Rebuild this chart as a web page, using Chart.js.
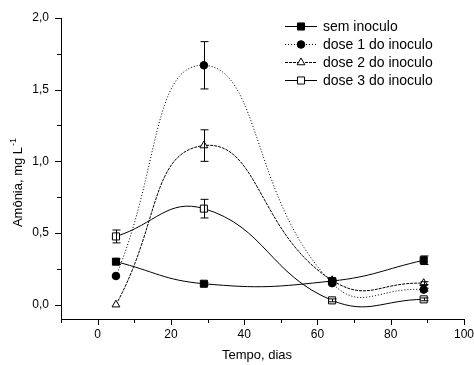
<!DOCTYPE html>
<html>
<head>
<meta charset="utf-8">
<script src="https://cdn.jsdelivr.net/npm/chart.js@4/dist/chart.umd.min.js"></script>
<style>
  html, body { margin: 0; padding: 0; background: #fff; }
  #wrap { width: 474px; height: 365px; }
</style>
</head>
<body>
<div id="wrap"><canvas id="chart"></canvas></div>
<script>
// Data
const days = [5, 29, 64, 89];
const semInoculo = [0.30, 0.146, 0.165, 0.31];
const semInoculoErr = [0.02, 0.01, 0.01, 0.03];
const dose1 = [0.20, 1.67, 0.15, 0.105];
const dose1Err = [0.0, 0.165, 0.01, 0.01];
const dose2 = [0.0, 1.11, 0.17, 0.15];
const dose2Err = [0.0, 0.11, 0.01, 0.01];
const dose3 = [0.476, 0.67, 0.03, 0.037];
const dose3Err = [0.045, 0.065, 0.01, 0.01];

const xTicks = [-10, 0, 10, 20, 30, 40, 50, 60, 70, 80, 90, 100];
const yTicks = [0, 0.25, 0.5, 0.75, 1, 1.25, 1.5, 1.75, 2];

const FONT = "'Liberation Sans', Arial, sans-serif";

function pts(ys) {
    return days.map((d, i) => ({ x: d, y: ys[i] }));
}

function series(label, ys, errs, style, radius, fill, dash, tension) {
    return {
        label: label,
        data: pts(ys),
        errors: errs,
        showLine: true,
        tension: tension,
        borderColor: '#000',
        borderWidth: 1,
        borderDash: dash,
        pointStyle: style,
        pointRadius: radius,
        pointBackgroundColor: fill,
        pointBorderColor: '#000',
        pointBorderWidth: 1
    };
}

// error bars, axis ticks, axis titles and legend
const decorPlugin = {
    id: 'decor',
    afterDatasetsDraw(chart) {
        const ctx = chart.ctx;
        const xs = chart.scales.x, ys = chart.scales.y;
        ctx.save();
        ctx.strokeStyle = '#000';
        ctx.lineWidth = 1;
        chart.data.datasets.forEach(ds => {
            ds.data.forEach((p, i) => {
                const e = ds.errors[i];
                if (!e) return;
                const px = Math.round(xs.getPixelForValue(p.x)) + 0.5;
                const top = ys.getPixelForValue(p.y + e);
                const bot = ys.getPixelForValue(p.y - e);
                ctx.beginPath();
                ctx.moveTo(px, top); ctx.lineTo(px, bot);
                ctx.moveTo(px - 4, top); ctx.lineTo(px + 4, top);
                ctx.moveTo(px - 4, bot); ctx.lineTo(px + 4, bot);
                ctx.stroke();
            });
        });
        ctx.restore();
    },
    afterDraw(chart) {
        const ctx = chart.ctx;
        const xs = chart.scales.x, ys = chart.scales.y;
        const area = chart.chartArea;
        ctx.save();
        ctx.strokeStyle = '#000';
        ctx.lineWidth = 1;

        // tick marks, outward
        ctx.beginPath();
        xTicks.forEach(v => {
            const px = Math.round(xs.getPixelForValue(v)) + 0.5;
            const len = v % 20 === 0 ? 6 : 4;
            ctx.moveTo(px, area.bottom); ctx.lineTo(px, area.bottom + len);
        });
        yTicks.forEach(v => {
            const py = Math.round(ys.getPixelForValue(v)) + 0.5;
            const len = (v * 2) % 1 === 0 ? 6 : 4;
            ctx.moveTo(area.left, py); ctx.lineTo(area.left - len, py);
        });
        ctx.stroke();

        // axis titles
        ctx.fillStyle = '#000';
        ctx.font = '13px ' + FONT;
        ctx.textAlign = 'center';
        ctx.textBaseline = 'alphabetic';
        ctx.fillText('Tempo, dias', 257, 359);

        ctx.save();
        ctx.translate(22, 183);
        ctx.rotate(-Math.PI / 2);
        ctx.textAlign = 'left';
        const main = 'Amônia, mg L';
        const w1 = ctx.measureText(main).width;
        ctx.font = '9px ' + FONT;
        const w2 = ctx.measureText('-1').width;
        const start = -(w1 + w2) / 2;
        ctx.font = '13px ' + FONT;
        ctx.fillText(main, start, 0);
        ctx.font = '9px ' + FONT;
        ctx.fillText('-1', start + w1 + 1, -6);
        ctx.restore();

        // legend
        ctx.font = '14px ' + FONT;
        ctx.textAlign = 'left';
        ctx.textBaseline = 'middle';
        chart.data.datasets.forEach((ds, i) => {
            const y = 26 + i * 18;
            ctx.save();
            ctx.setLineDash(ds.borderDash || []);
            ctx.beginPath();
            ctx.moveTo(285, y + 0.5); ctx.lineTo(317, y + 0.5);
            ctx.stroke();
            ctx.restore();
            ctx.fillStyle = ds.pointBackgroundColor;
            Chart.helpers.drawPoint(ctx, {
                pointStyle: ds.pointStyle,
                radius: ds.pointRadius,
                borderWidth: 1,
                rotation: 0
            }, 301, y + 0.5);
            ctx.fillStyle = '#000';
            ctx.fillText(ds.label, 323, y + 1);
        });
        ctx.restore();
    }
};

new Chart(document.getElementById('chart'), {
    type: 'scatter',
    data: {
        datasets: [
            series('sem inoculo', semInoculo, semInoculoErr, 'rect', 5, '#000', [], 0.45),
            series('dose 1 do inoculo', dose1, dose1Err, 'circle', 3.8, '#000', [1, 2], 0.5),
            series('dose 2 do inoculo', dose2, dose2Err, 'triangle', 4.5, '#fff', [3, 1], 0.5),
            series('dose 3 do inoculo', dose3, dose3Err, 'rect', 5, '#fff', [], 0.45)
        ]
    },
    options: {
        responsive: true,
        maintainAspectRatio: false,
        animation: false,
        layout: { padding: { top: 18, right: 10, left: 0, bottom: 0 } },
        elements: { line: { capBezierPoints: false } },
        plugins: {
            legend: { display: false },
            tooltip: { enabled: false }
        },
        scales: {
            x: {
                type: 'linear',
                min: -10,
                max: 100,
                afterBuildTicks: s => { s.ticks = xTicks.map(v => ({ value: v })); },
                afterFit: s => { s.height = 46; },
                grid: { display: false },
                border: { display: true, color: '#000', width: 1 },
                ticks: {
                    autoSkip: false,
                    maxRotation: 0,
                    padding: 0,
                    color: '#000',
                    font: { family: FONT, size: 12 },
                    callback: v => (v % 20 === 0 ? String(v) : '')
                }
            },
            y: {
                type: 'linear',
                min: -0.1,
                max: 2.0,
                afterBuildTicks: s => { s.ticks = yTicks.map(v => ({ value: v })); },
                afterFit: s => { s.width = 61; },
                grid: { display: false },
                border: { display: true, color: '#000', width: 1 },
                ticks: {
                    autoSkip: false,
                    padding: 4,
                    color: '#000',
                    font: { family: FONT, size: 12 },
                    callback: v => ((v * 2) % 1 === 0 ? v.toFixed(1).replace('.', ',') : '')
                }
            }
        }
    },
    plugins: [decorPlugin]
});
</script>
</body>
</html>
